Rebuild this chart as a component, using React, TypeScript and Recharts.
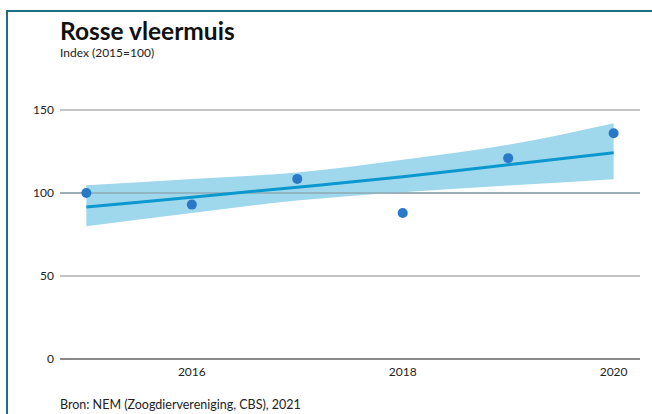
import React from 'react';
import { ComposedChart, Area, Line, XAxis, YAxis, CartesianGrid, ReferenceLine } from 'recharts';

const years = [2015, 2016, 2017, 2018, 2019, 2020];
const indexValues = [100, 93, 108.5, 88, 121, 136];
const trendValues = [91.5, 97.5, 103.5, 109.8, 117, 124.3];
const lowerBound = [80, 88, 95.5, 100.5, 104.5, 108.3];
const upperBound = [104.6, 108.5, 112.3, 120, 129, 142];
const yTicks = [0, 50, 100, 150];
const xTicks = [2016, 2018, 2020];

const data = years.map((year, i) => ({
  year,
  index: indexValues[i],
  trend: trendValues[i],
  band: [lowerBound[i], upperBound[i]],
}));

const FONT = 'Lato, "Open Sans", sans-serif';

export default function App() {
  return (
    <div style={{ position: 'absolute', left: 0, top: 0, width: 652, height: 414, background: '#fff', overflow: 'hidden', fontFamily: FONT }}>
      <div style={{ position: 'absolute', left: 6, top: 10, width: 646, height: 2, background: '#1d6f82' }} />
      <div style={{ position: 'absolute', left: 6, top: 10, width: 2, height: 404, background: '#1d6f82' }} />
      <div style={{ position: 'absolute', left: 60, top: 16, fontSize: 24.5, fontWeight: 700, color: '#111', lineHeight: '30px' }}>Rosse vleermuis</div>
      <div style={{ position: 'absolute', left: 60, top: 45, fontSize: 12, color: '#222', lineHeight: '16px' }}>Index (2015=100)</div>
      <div style={{ position: 'absolute', left: 60, top: 397, fontSize: 12.5, color: '#222', lineHeight: '16px' }}>Bron: NEM (Zoogdiervereniging, CBS), 2021</div>
      <div style={{ position: 'absolute', left: 0, top: 0 }}>
        <ComposedChart width={652} height={414} data={data} margin={{ top: 110, right: 12, bottom: 25, left: 0 }}>
          <CartesianGrid horizontal vertical={false} stroke="#b0b0b0" strokeWidth={1.5} />
          <XAxis
            dataKey="year"
            type="number"
            domain={[2014.75, 2020.25]}
            ticks={xTicks}
            height={30}
            tickLine={false}
            tickSize={0}
            tickMargin={8}
            axisLine={{ stroke: '#888', strokeWidth: 2 }}
            tick={{ fontSize: 12, fill: '#222', fontFamily: FONT }}
            allowDataOverflow
          />
          <YAxis
            domain={[0, 150]}
            ticks={yTicks}
            width={60}
            axisLine={false}
            tickLine={false}
            tickSize={0}
            tickMargin={6}
            tick={{ fontSize: 12, fill: '#222', fontFamily: FONT }}
          />
          <Area dataKey="band" type="monotone" stroke="none" fill="#9fd8ec" fillOpacity={1} isAnimationActive={false} />
          <ReferenceLine y={100} stroke="#8fa9b3" strokeWidth={1.5} />
          <Line dataKey="trend" type="monotone" stroke="#0c98cf" strokeWidth={3} dot={false} isAnimationActive={false} />
          <Line dataKey="index" stroke="none" dot={{ r: 5, fill: '#2a78c8', stroke: 'none' }} activeDot={false} isAnimationActive={false} />
        </ComposedChart>
      </div>
    </div>
  );
}
